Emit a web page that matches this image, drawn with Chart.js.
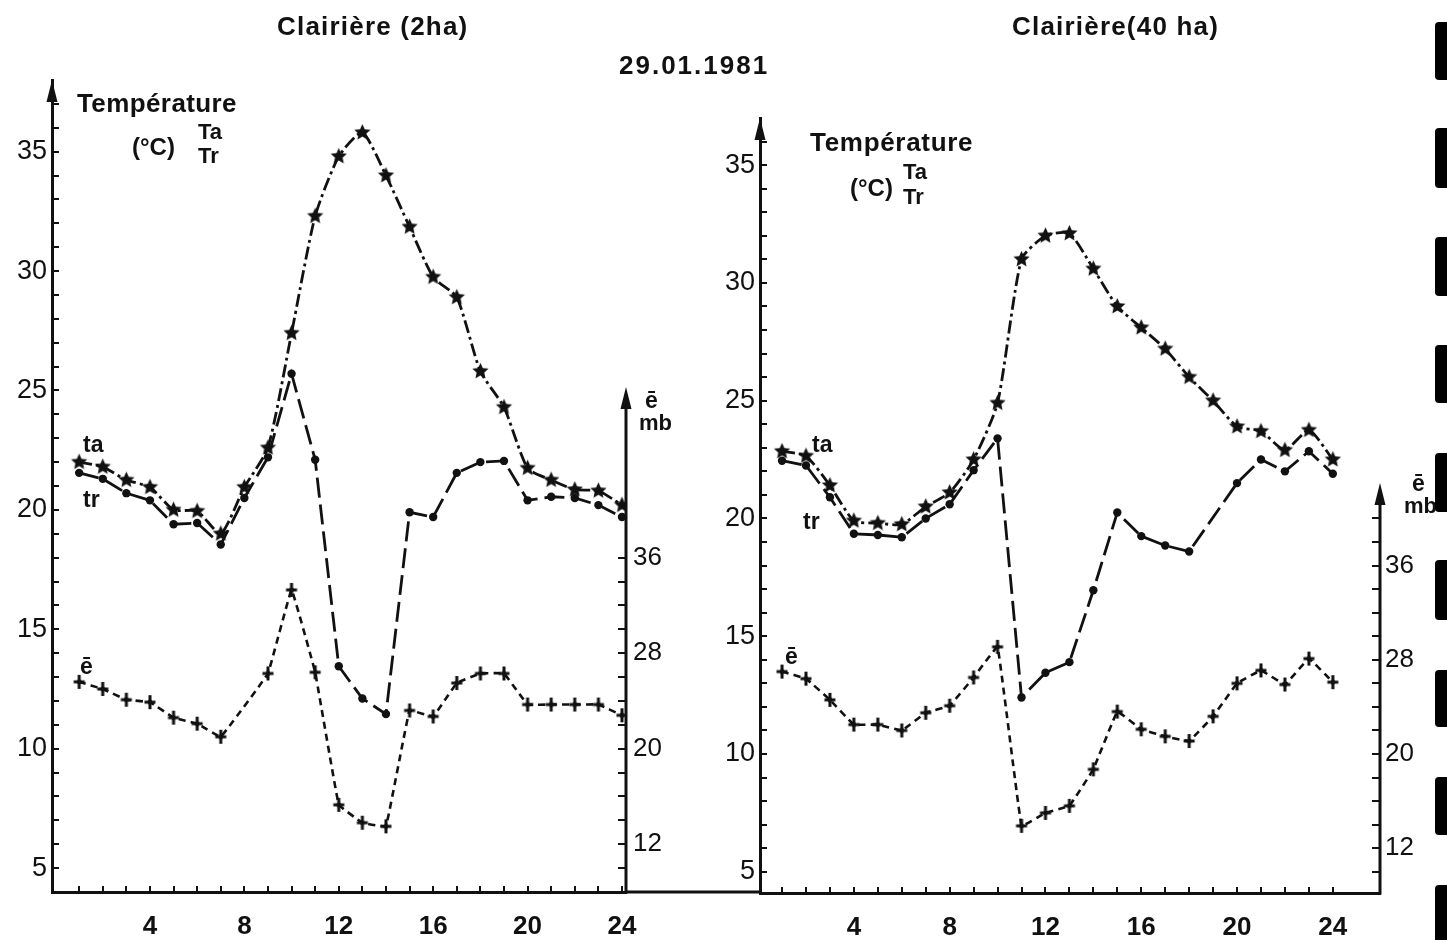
<!DOCTYPE html>
<html><head><meta charset="utf-8">
<script src="https://cdn.jsdelivr.net/npm/chart.js@4.4.1/dist/chart.umd.min.js"></script>
<style>
html,body{margin:0;padding:0;background:#fff;width:1447px;height:940px;overflow:hidden;position:relative;}
canvas{position:absolute;top:0;}
.t{position:absolute;font-family:"Liberation Sans",Arial,sans-serif;font-weight:bold;color:#111;white-space:nowrap;line-height:1;}
.bar{position:absolute;left:1435px;width:14px;background:#000;border-radius:4px 0 0 4px;z-index:5;}
</style></head><body>
<canvas id="c1" width="760" height="940" style="left:0px"></canvas>
<canvas id="c2" width="747" height="940" style="left:700px"></canvas>

<div class="t" style="left:277px;top:13px;font-size:26px;letter-spacing:1.2px;">Clairière (2ha)</div>
<div class="t" style="left:1012px;top:13px;font-size:26px;letter-spacing:1.2px;">Clairière(40 ha)</div>
<div class="t" style="left:619px;top:52px;font-size:26px;letter-spacing:2px;">29.01.1981</div>

<div class="t" style="left:77px;top:90px;font-size:26px;letter-spacing:0.4px;">Température</div>
<div class="t" style="left:132px;top:135px;font-size:24px;">(°C)</div>
<div class="t" style="left:198px;top:121px;font-size:22px;">Ta</div>
<div class="t" style="left:198px;top:145px;font-size:22px;">Tr</div>

<div class="t" style="left:810px;top:129px;font-size:26px;letter-spacing:0.7px;">Température</div>
<div class="t" style="left:850px;top:176px;font-size:24px;">(°C)</div>
<div class="t" style="left:903px;top:161px;font-size:22px;">Ta</div>
<div class="t" style="left:903px;top:186px;font-size:22px;">Tr</div>

<div class="t" style="left:83px;top:433px;font-size:23px;">ta</div>
<div class="t" style="left:83px;top:488px;font-size:23px;">tr</div>
<div class="t" style="left:80px;top:655px;font-size:23px;">ē</div>
<div class="t" style="left:812px;top:433px;font-size:23px;">ta</div>
<div class="t" style="left:803px;top:510px;font-size:23px;">tr</div>
<div class="t" style="left:785px;top:645px;font-size:23px;">ē</div>

<div class="t" style="left:645px;top:389px;font-size:23px;">ē</div>
<div class="t" style="left:639px;top:412px;font-size:22px;">mb</div>
<div class="t" style="left:1412px;top:472px;font-size:23px;">ē</div>
<div class="t" style="left:1404px;top:495px;font-size:22px;">mb</div>

<div class="bar" style="top:22px;height:58px"></div>
<div class="bar" style="top:128px;height:60px"></div>
<div class="bar" style="top:237px;height:59px"></div>
<div class="bar" style="top:345px;height:58px"></div>
<div class="bar" style="top:453px;height:59px"></div>
<div class="bar" style="top:560px;height:60px"></div>
<div class="bar" style="top:670px;height:57px"></div>
<div class="bar" style="top:777px;height:58px"></div>
<div class="bar" style="top:885px;height:60px"></div>

<script>
// ---------------- DATA ----------------
const hours = [1,2,3,4,5,6,7,8,9,10,11,12,13,14,15,16,17,18,19,20,21,22,23,24];

// Clairière (2 ha)
const ta2ha = [22.0,21.8,21.25,20.95,20.0,19.95,19.0,20.95,22.6,27.4,32.3,34.8,35.8,34.0,31.85,29.75,28.9,25.8,24.3,21.75,21.25,20.85,20.8,20.2];
const tr2ha = [21.55,21.3,20.7,20.4,19.4,19.45,18.55,20.5,22.2,25.7,22.1,13.45,12.1,11.45,19.9,19.7,21.55,22.0,22.05,20.4,20.55,20.5,20.2,19.7];
const e2ha  = [25.6,25.0,24.1,23.9,22.6,22.1,21.0,null,26.3,33.3,26.4,15.3,13.8,13.5,23.2,22.7,25.5,26.3,26.3,23.7,23.7,23.7,23.7,22.8];

// Clairière (40 ha)
const ta40ha = [22.85,22.65,21.4,19.9,19.8,19.75,20.5,21.1,22.5,24.9,31.0,32.0,32.1,30.6,29.0,28.1,27.2,26.0,25.0,23.9,23.7,22.9,23.75,22.5];
const tr40ha = [22.45,22.25,20.9,19.35,19.3,19.2,20.0,20.6,22.05,23.4,12.4,13.45,13.9,16.95,20.25,19.25,18.85,18.6,null,21.5,22.5,22.0,22.85,21.9];
const e40ha  = [27.0,26.4,24.6,22.5,22.5,22.0,23.5,24.1,26.5,29.1,13.9,15.0,15.6,18.7,23.6,22.1,21.5,21.1,23.2,26.0,27.1,25.9,28.1,26.1];

// tick labels
const hourTickLabels = [4,8,12,16,20,24];
const tempTickLabels = [5,10,15,20,25,30,35];
const eTickLabels    = [12,20,28,36];

// ---------------- STYLE ----------------
const INK = '#111';
Chart.defaults.font.family = '"Liberation Sans", Arial, sans-serif';
Chart.defaults.color = INK;

function starImg(r){
  const s = Math.ceil(r*2+2), c = document.createElement('canvas');
  c.width = c.height = s;
  const g = c.getContext('2d');
  g.fillStyle = INK; g.beginPath();
  for (let i=0;i<10;i++){
    const a = -Math.PI/2 + i*Math.PI/5, rr = (i%2) ? r*0.47 : r;
    g.lineTo(s/2 + rr*Math.cos(a), s/2 + rr*Math.sin(a));
  }
  g.closePath(); g.fill();
  return c;
}
function plusImg(){
  const c = document.createElement('canvas'); c.width = 14; c.height = 16;
  const g = c.getContext('2d'); g.fillStyle = INK;
  g.fillRect(5.5,1,3,14); g.fillRect(1.5,6.5,11,3);
  g.beginPath(); g.moveTo(7,4); g.lineTo(10,8); g.lineTo(7,12); g.lineTo(4,8); g.closePath(); g.fill();
  return c;
}
const STAR = starImg(8.5), PLUS = plusImg();

function arrow(ctx, x, y){
  ctx.beginPath(); ctx.moveTo(x, y); ctx.lineTo(x-5.5, y+22); ctx.lineTo(x+5.5, y+22); ctx.closePath(); ctx.fill();
}
const axisDecor = {
  id: 'axisDecor',
  afterDraw(chart, args, o){
    const {ctx, chartArea: a, scales} = chart;
    ctx.save();
    ctx.fillStyle = INK; ctx.strokeStyle = INK; ctx.lineWidth = 3;
    const yTop = scales.y2.getPixelForValue(o.eTop);
    ctx.beginPath(); ctx.moveTo(a.right, a.bottom+1.5); ctx.lineTo(a.right, yTop+10); ctx.stroke();
    arrow(ctx, a.right, yTop);
    arrow(ctx, a.left, a.top);
    if (o.extendTo){ ctx.beginPath(); ctx.moveTo(a.right, a.bottom); ctx.lineTo(o.extendTo, a.bottom); ctx.stroke(); }
    ctx.restore();
  }
};

function pts(arr){ return hours.map((h,i)=>({x:h, y:arr[i]})); }
function range(a,b,s){ const r=[]; for(let v=a; v<=b+1e-9; v+=s) r.push(v); return r; }

function makeChart(id, g){
  const ds = [
    {data: pts(g.e), yAxisID:'y2', borderColor:INK, borderWidth:2.6, borderDash:[7,5], pointStyle:PLUS, pointRadius:7, tension:0.05, spanGaps:true},
    {data: pts(g.tr), yAxisID:'y', borderColor:INK, borderWidth:2.8, borderDash:[20,7], pointStyle:'circle', pointRadius:4.2, backgroundColor:INK, pointBorderWidth:0, tension:0, spanGaps:true},
    {data: pts(g.ta), yAxisID:'y', borderColor:INK, borderWidth:2.8, borderDash:[13,4,3,4], pointStyle:STAR, pointRadius:9, tension:0.2, spanGaps:true}
  ];
  return new Chart(document.getElementById(id), {
    type: 'line',
    data: {datasets: ds},
    plugins: [axisDecor],
    options: {
      responsive:false, animation:false, devicePixelRatio:1,
      layout: {padding: {top:g.top, left:0, right:0, bottom:0}},
      plugins: {legend:{display:false}, tooltip:{enabled:false}, axisDecor:{eTop:g.eTop, extendTo:g.extendTo}},
      scales: {
        x: {
          type:'linear', min:g.xmin, max:g.xmax,
          afterBuildTicks: s => { s.ticks = hours.map(v=>({value:v})); },
          afterFit: s => { s.height = g.xh; },
          ticks: {autoSkip:false, maxRotation:0, minRotation:0, padding:25, color:INK,
                  font:{size:26, weight:'bold'}, callback: v => hourTickLabels.includes(v) ? String(v) : ''},
          grid: {drawOnChartArea:false, tickLength:-6, lineWidth:2, color:INK},
          border: {display:true, color:INK, width:3}
        },
        y: {
          position:'left', min:g.ymin, max:g.ymax,
          afterBuildTicks: s => { s.ticks = range(5, g.tmaxTick, 1).map(v=>({value:v})); },
          afterFit: s => { s.width = g.yw; },
          ticks: {autoSkip:false, padding:12, color:INK, font:{size:27},
                  callback: v => tempTickLabels.includes(v) ? String(v) : ''},
          grid: {drawOnChartArea:false, tickLength:-7, lineWidth:2, color:INK},
          border: {display:true, color:INK, width:3}
        },
        y2: {
          position:'right', min:g.emin, max:g.emax,
          afterBuildTicks: s => { s.ticks = range(10, g.emaxTick, 2).map(v=>({value:v})); },
          afterFit: s => { s.width = g.ew; },
          ticks: {autoSkip:false, padding:g.epad, color:INK, font:{size:26},
                  callback: v => eTickLabels.includes(v) ? String(v) : ''},
          grid: {drawOnChartArea:false, tickLength:-8, lineWidth:2, color:INK},
          border: {display:false}
        }
      }
    }
  });
}

makeChart('c1', {ta:ta2ha, tr:tr2ha, e:e2ha, top:80, xh:48, yw:52, ew:134,
  xmin:-0.15, xmax:24.17, ymin:4.0, ymax:38.0, emin:8.0, emax:76.0, eTop:50.3,
  tmaxTick:37, emaxTick:36, epad:15, extendTo:760});
makeChart('c2', {ta:ta40ha, tr:tr40ha, e:e40ha, top:118, xh:47, yw:60, ew:67,
  xmin:0.08, xmax:25.97, ymin:4.1, ymax:37.0, emin:8.2, emax:74.0, eTop:43.0,
  tmaxTick:36, emaxTick:40, epad:13, extendTo:0});
</script>
</body></html>
